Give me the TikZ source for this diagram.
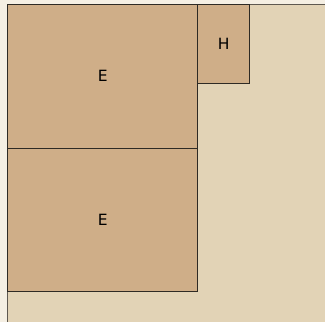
\documentclass[tikz,border=0pt]{standalone}
\usepackage{fontspec}
\setmainfont{DejaVu Sans}
\definecolor{pagebg}{HTML}{F5EFE3}
\definecolor{contbg}{HTML}{E2D3B6}
\definecolor{boxbg}{HTML}{CFAE88}
\definecolor{boxline}{HTML}{2E2A24}
\definecolor{contline}{HTML}{5E5850}
\tikzset{
  roombox/.style={draw=boxline, fill=boxbg, line width=1pt, inner sep=0pt, font=\fontsize{15.5}{18}\selectfont},
}
\begin{document}
\begin{tikzpicture}[x=1pt,y=-1pt]
\useasboundingbox (0,0) rectangle (325,322);
\fill[pagebg] (0,0) rectangle (325,322);
\fill[contbg] (7.5,4.5) rectangle (326,323);
\draw[contline, line width=1pt] (7.5,323) -- (7.5,4.5) -- (326,4.5);
\node[roombox, minimum width=190.5pt, minimum height=143.5pt] (e1) at (102.75,76.25) {E};
\node[roombox, minimum width=190.5pt, minimum height=143.5pt] (e2) at (102.75,219.75) {E};
\node[roombox, minimum width=51.5pt, minimum height=78.5pt] (h) at (223.75,43.75) {H};
\end{tikzpicture}
\end{document}
